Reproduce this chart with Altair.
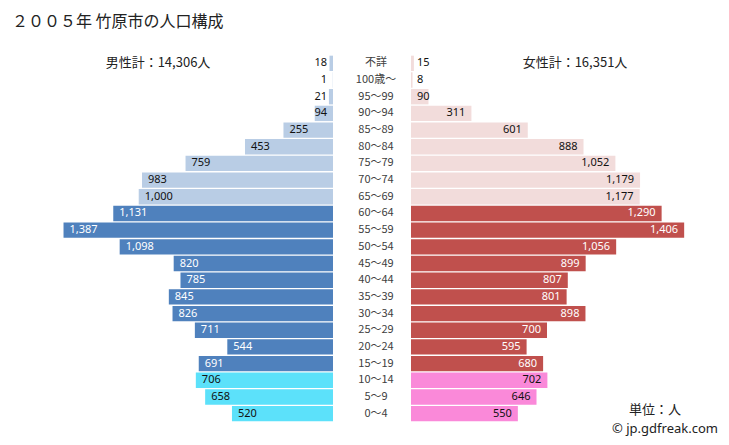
import altair as alt
import pandas as pd

title_text = "２００５年 竹原市の人口構成"
male_header = "男性計：14,306人"
female_header = "女性計：16,351人"
unit_text = "単位：人"
credit_text = "© jp.gdfreak.com"

ages = ["不詳", "100歳～", "95～99", "90～94", "85～89", "80～84", "75～79", "70～74",
        "65～69", "60～64", "55～59", "50～54", "45～49", "40～44", "35～39", "30～34",
        "25～29", "20～24", "15～19", "10～14", "5～9", "0～4"]
male = [18, 1, 21, 94, 255, 453, 759, 983, 1000, 1131, 1387, 1098, 820, 785, 845, 826,
        711, 544, 691, 706, 658, 520]
female = [15, 8, 90, 311, 601, 888, 1052, 1179, 1177, 1290, 1406, 1056, 899, 807, 801, 898,
          700, 595, 680, 702, 646, 550]
groups = ["elderly"] * 9 + ["working"] * 10 + ["children"] * 3

color_domain = ["m_elderly", "m_working", "m_children", "f_elderly", "f_working", "f_children"]
color_range = ["#b9cde5", "#4f81bd", "#5ce1fa", "#f2dcdb", "#c0504d", "#fa89d9"]


def make_df(values, prefix):
    return pd.DataFrame({
        "age": ages,
        "value": values,
        "grp": [prefix + g for g in groups],
        "tcolor": ["#ffffff" if g == "working" else "#111111" for g in groups],
        "zero": [0] * len(ages),
    })


dfm = make_df(male, "m_")
dff = make_df(female, "f_")

Y = alt.Y("age:N", sort=ages, axis=None,
          scale=alt.Scale(paddingInner=0.08, paddingOuter=0.04))
COLOR = alt.Color("grp:N", scale=alt.Scale(domain=color_domain, range=color_range), legend=None)
TCOL = alt.Color("tcolor:N", scale=None)
LBL_FONT = dict(font="Noto Sans", fontSize=11)
W_SIDE = 272
W_MID = 78
H = 367
THR = 150


def side(df, reverse, header, extra=None):
    xs = alt.Scale(domain=[0, 1400], reverse=reverse)
    base = alt.Chart(df)
    bars = base.mark_bar().encode(x=alt.X("value:Q", scale=xs, axis=None), y=Y, color=COLOR)
    inside = base.transform_filter(f"datum.value >= {THR}").mark_text(
        align="left" if reverse else "right", dx=6 if reverse else -6, **LBL_FONT
    ).encode(x=alt.X("value:Q", scale=xs, axis=None), y=Y,
             text=alt.Text("value:Q", format=","), color=TCOL)
    small = base.transform_filter(f"datum.value < {THR}").mark_text(
        align="right" if reverse else "left", dx=-6 if reverse else 6, color="#111111", **LBL_FONT
    ).encode(x=alt.X("zero:Q", scale=xs, axis=None), y=Y,
             text=alt.Text("value:Q", format=","))
    layers = [bars, inside, small]
    hx = 97 if reverse else 164
    layers.append(alt.Chart(pd.DataFrame({"t": [header]})).mark_text(
        font="Noto Sans CJK JP", fontSize=13, color="#222222", align="center", baseline="middle"
    ).encode(text="t:N", x=alt.value(hx), y=alt.value(8)))
    if extra:
        layers.extend(extra)
    return alt.layer(*layers).properties(width=W_SIDE, height=H)


title_layer = alt.Chart(pd.DataFrame({"t": [title_text]})).mark_text(
    font="Noto Sans CJK JP", fontSize=16, color="#222222", align="left", baseline="middle"
).encode(text="t:N", x=alt.value(-49), y=alt.value(-33))

unit_layer = alt.Chart(pd.DataFrame({"t": [unit_text]})).mark_text(
    font="Noto Sans CJK JP", fontSize=13, color="#222222", align="center", baseline="middle"
).encode(text="t:N", x=alt.value(244), y=alt.value(355))

credit_layer = alt.Chart(pd.DataFrame({"t": [credit_text]})).mark_text(
    font="Noto Sans", fontSize=13, color="#222222", align="center", baseline="middle"
).encode(text="t:N", x=alt.value(254), y=alt.value(374))

left = side(dfm, True, male_header, [title_layer])
right = side(dff, False, female_header, [unit_layer, credit_layer])

mid = alt.Chart(dfm).mark_text(
    font="Noto Sans CJK JP", fontSize=11, color="#404040", align="center", baseline="middle"
).encode(y=Y, x=alt.value(43), text="age:N").properties(width=W_MID, height=H)

chart = alt.hconcat(left, mid, right, spacing=0).properties(
    padding={"left": 4, "top": 6, "right": 0, "bottom": 0},
).configure_view(stroke=None)

chart.save("out.html", embed_options={"renderer": "svg", "actions": False})
